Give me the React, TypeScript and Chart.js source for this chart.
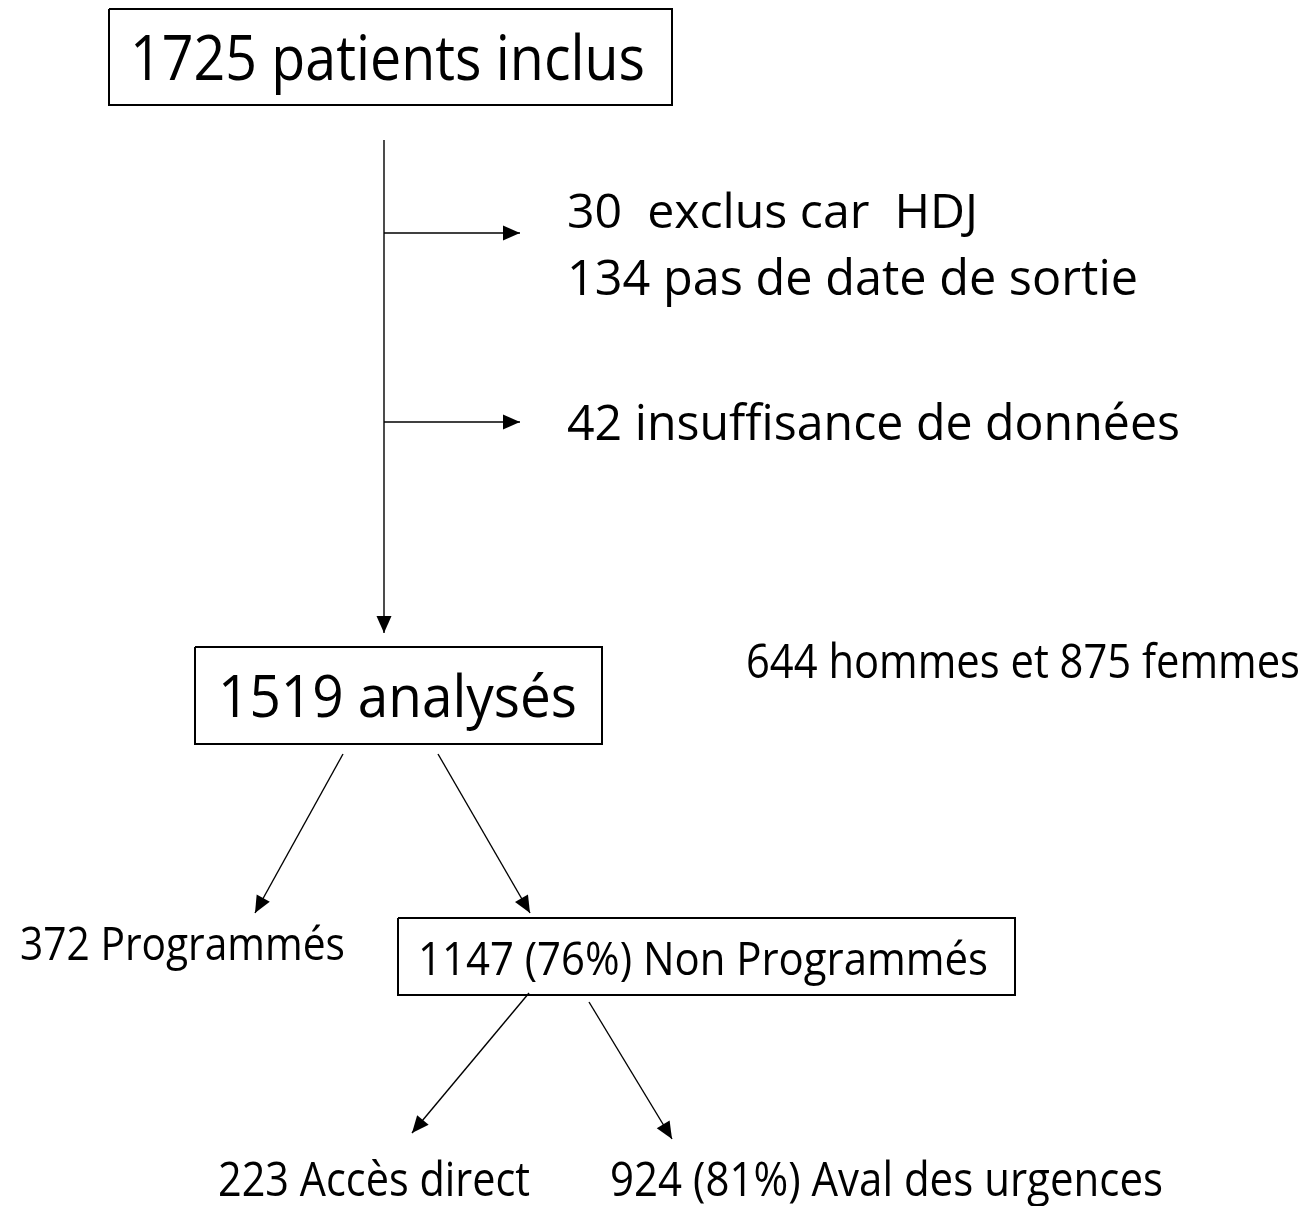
import React, { useEffect, useRef } from "react";
import { Chart, registerables } from "chart.js";

Chart.register(...registerables);

// ---- Data (counts from the flow diagram) ----
const included = 1725;
const excludedHDJ = 30;
const noDischargeDate = 134;
const insufficientData = 42;
const analysed = 1519;
const men = 644;
const women = 875;
const scheduled = 372;
const unscheduled = 1147;
const unscheduledPct = 76;
const directAccess = 223;
const emergency = 924;
const emergencyPct = 81;

const labels: string[] = [
  `${included} patients inclus`,
  `${excludedHDJ}  exclus car  HDJ`,
  `${noDischargeDate} pas de date de sortie`,
  `${insufficientData} insuffisance de données`,
  `${men} hommes et ${women} femmes`,
  `${analysed} analysés`,
  `${scheduled} Programmés`,
  `${unscheduled} (${unscheduledPct}%) Non Programmés`,
  `${directAccess} Accès direct`,
  `${emergency} (${emergencyPct}%) Aval des urgences`,
];

// ---- Layout (diagram coordinate space 1314 x 1206) ----
// [x left, baseline y, target width, font size]
const textLayout: [number, number, number, number][] = [
  [130, 80, 515, 62],
  [567, 228, 411, 48],
  [567, 295, 571, 50],
  [567, 440, 613, 50],
  [746, 678, 554, 47],
  [218, 717, 359, 58],
  [20, 960, 325, 45],
  [418, 975, 570, 46],
  [218, 1196, 312, 47],
  [610, 1196, 553, 47],
];

// boxes: [x1, y1, x2, y2]
const boxes: [number, number, number, number][] = [
  [109, 9, 672, 105],
  [195, 647, 602, 744],
  [398, 918, 1015, 995],
];

// arrows: [fromX, fromY, toX, toY]
const arrows: [number, number, number, number][] = [
  [384, 140, 384, 633],
  [384, 233, 520, 233],
  [384, 422, 520, 422],
  [343, 754, 255, 913],
  [438, 754, 530, 913],
  [529, 993, 412, 1133],
  [589, 1002, 672, 1139],
];

const W = 1314;
const H = 1206;
const FONT = "'Open Sans', 'Noto Sans', sans-serif";

export default function App() {
  const ref = useRef<HTMLCanvasElement | null>(null);

  useEffect(() => {
    document.body.style.margin = "0";
    const canvas = ref.current;
    if (!canvas) return;

    const datasets: any[] = [];
    boxes.forEach(([x1, y1, x2, y2]) => {
      datasets.push({
        data: [
          { x: x1, y: y1 },
          { x: x2, y: y1 },
          { x: x2, y: y2 },
          { x: x1, y: y2 },
          { x: x1, y: y1 },
        ],
        showLine: true,
        borderColor: "#000",
        borderWidth: 2,
        pointRadius: 0,
        fill: false,
        borderJoinStyle: "miter",
      });
    });
    arrows.forEach(([x1, y1, x2, y2]) => {
      datasets.push({
        data: [
          { x: x1, y: y1 },
          { x: x2, y: y2 },
        ],
        showLine: true,
        borderColor: "#000",
        borderWidth: 1.4,
        pointRadius: 0,
        fill: false,
      });
    });

    const overlay = {
      id: "flowOverlay",
      afterDatasetsDraw(chart: any) {
        const ctx = chart.ctx as CanvasRenderingContext2D;
        const xs = chart.scales.x;
        const ys = chart.scales.y;
        // arrowheads
        arrows.forEach(([x1, y1, x2, y2]) => {
          const px1 = xs.getPixelForValue(x1);
          const py1 = ys.getPixelForValue(y1);
          const px2 = xs.getPixelForValue(x2);
          const py2 = ys.getPixelForValue(y2);
          const ang = Math.atan2(py2 - py1, px2 - px1);
          const len = 17;
          const half = 7.5;
          ctx.save();
          ctx.translate(px2, py2);
          ctx.rotate(ang);
          ctx.beginPath();
          ctx.moveTo(0, 0);
          ctx.lineTo(-len, -half);
          ctx.lineTo(-len, half);
          ctx.closePath();
          ctx.fillStyle = "#000";
          ctx.fill();
          ctx.restore();
        });
        // texts
        labels.forEach((t, i) => {
          const [x, y, w, fs] = textLayout[i];
          const px = xs.getPixelForValue(x);
          const py = ys.getPixelForValue(y);
          const pw = xs.getPixelForValue(x + w) - px;
          ctx.save();
          ctx.font = `${fs}px ${FONT}`;
          ctx.fillStyle = "#000";
          ctx.textBaseline = "alphabetic";
          ctx.textAlign = "left";
          const m = ctx.measureText(t).width;
          ctx.translate(px, py);
          ctx.scale(pw / m, 1);
          ctx.fillText(t, 0, 0);
          ctx.restore();
        });
      },
    };

    const chart = new Chart(canvas, {
      type: "scatter",
      data: { datasets },
      options: {
        animation: false,
        responsive: false,
        maintainAspectRatio: false,
        layout: { padding: 0 },
        plugins: {
          legend: { display: false },
          tooltip: { enabled: false },
          title: { display: false },
        },
        scales: {
          x: { type: "linear", min: 0, max: W, display: false },
          y: { type: "linear", min: 0, max: H, reverse: true, display: false },
        },
        events: [],
      },
      plugins: [overlay],
    });

    return () => chart.destroy();
  }, []);

  return (
    <div style={{ width: W, height: H, background: "#fff" }}>
      <canvas ref={ref} width={W} height={H} style={{ display: "block" }} />
    </div>
  );
}
